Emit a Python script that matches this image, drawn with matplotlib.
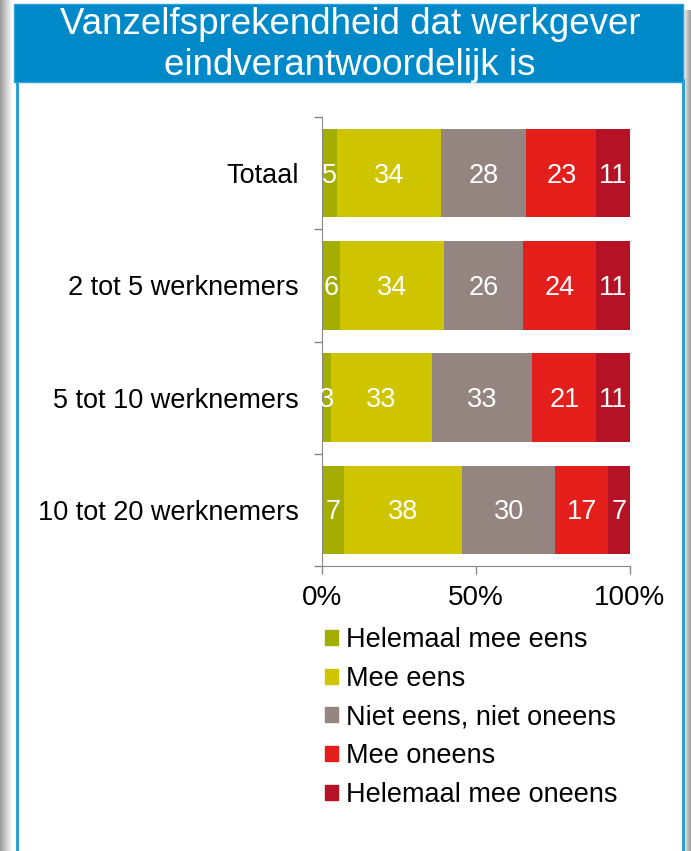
import matplotlib.pyplot as plt
from matplotlib.patches import Rectangle, Patch
import matplotlib.transforms as mtransforms
import numpy as np

plt.rcParams["font.family"] = ["Liberation Sans", "DejaVu Sans"]

categories = ["Totaal", "2 tot 5 werknemers", "5 tot 10 werknemers", "10 tot 20 werknemers"]
series = ["Helemaal mee eens", "Mee eens", "Niet eens, niet oneens", "Mee oneens", "Helemaal mee oneens"]
values = np.array([
    [5, 34, 28, 23, 11],
    [6, 34, 26, 24, 11],
    [3, 33, 33, 21, 11],
    [7, 38, 30, 17, 7],
])
colors = ["#a3ad00", "#cfc400", "#948580", "#e31e1b", "#b51226"]
title_lines = ["Vanzelfsprekendheid dat werkgever", "eindverantwoordelijk is"]

W, H = 691, 851
fig = plt.figure(figsize=(W / 100, H / 100), dpi=100)

# background frame: shadows, panel border, title box
bg = fig.add_axes([0, 0, 1, 1])
bg.set_xlim(0, W)
bg.set_ylim(H, 0)
bg.axis("off")
for i in range(12):
    g = 0.62 + 0.38 * i / 12
    bg.add_patch(Rectangle((i, 0), 1, H, color=(g, g, g), lw=0))
for i in range(8):
    g = 0.62 + 0.38 * (7 - i) / 8
    bg.add_patch(Rectangle((683 + i, 10), 1, H, color=(g, g, g), lw=0))
bg.add_patch(Rectangle((17, 80), 666, H, facecolor="white", edgecolor="#1c9ad8", lw=2))
bg.add_patch(Rectangle((14, 4), 669, 78, facecolor="#0089c8", edgecolor="#2aa0dc", lw=1))
bg.text(350, 34, title_lines[0], color="white", fontsize=26.5, ha="center", va="baseline")
bg.text(350, 75, title_lines[1], color="white", fontsize=26.5, ha="center", va="baseline")

# chart
ax = fig.add_axes([322 / W, 1 - 566 / H, 308 / W, 449 / H])
pct = values / values.sum(axis=1, keepdims=True) * 100
y = np.arange(len(categories))
left = np.zeros(len(categories))
# shift labels down so digits sit centred in the bar
shift = mtransforms.offset_copy(ax.transData, fig=fig, x=0, y=-9.5, units="dots")
for j, name in enumerate(series):
    ax.barh(y, pct[:, j], left=left, height=0.79, color=colors[j], label=name)
    for i in range(len(categories)):
        ax.text(left[i] + pct[i, j] / 2, y[i], str(values[i, j]), color="white",
                fontsize=19.5, ha="center", va="baseline", transform=shift)
    left += pct[:, j]

ax.set_xlim(0, 100)
ax.set_ylim(len(categories) - 0.5, -0.5)
ax.set_yticks(y)
ax.set_yticklabels(categories)
ax.set_yticks(np.arange(-0.5, len(categories)), minor=True)
ax.set_xticks([0, 50, 100])
ax.set_xticklabels(["0%", "50%", "100%"])
ax.tick_params(axis="y", which="major", length=0, pad=17, labelsize=19.5)
ax.tick_params(axis="y", which="minor", length=6, color="#888888", width=1)
ax.tick_params(axis="x", length=6, color="#888888", width=1, labelsize=20, pad=8)
for s in ["top", "right"]:
    ax.spines[s].set_visible(False)
for s in ["left", "bottom"]:
    ax.spines[s].set_color("#888888")

handles = [Patch(color=c) for c in colors]
fig.legend(handles, series, loc="upper left", bbox_to_anchor=(325 / W, 1 - 627 / H),
           frameon=False, fontsize=19.5, handlelength=0.48, handleheight=0.48,
           handletextpad=0.3, labelspacing=0.47, borderaxespad=0, borderpad=0)

fig.savefig("out.png", dpi=100)
